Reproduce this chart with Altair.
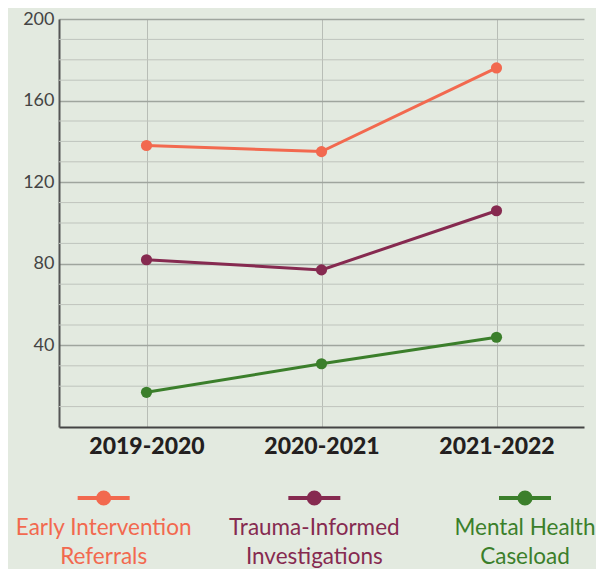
import altair as alt
import pandas as pd

years = ["2019-2020", "2020-2021", "2021-2022"]
series = ["Early Intervention Referrals", "Trauma-Informed Investigations", "Mental Health Caseload"]
legend_labels = [["Early Intervention", "Referrals"], ["Trauma-Informed", "Investigations"], ["Mental Health", "Caseload"]]
colors = ["#F2694F", "#862A50", "#3B7F2B"]
early = [138, 135, 176]
trauma = [82, 77, 106]
mental = [17, 31, 44]
minor_ticks = [10, 20, 30, 50, 60, 70, 90, 100, 110, 130, 140, 150, 170, 180, 190]

rows = []
for s, vals in zip(series, [early, trauma, mental]):
    for y, v in zip(years, vals):
        rows.append({"year": y, "series": s, "value": v})
df = pd.DataFrame(rows)
minor_df = pd.DataFrame({"v": minor_ticks})
leg_df = pd.DataFrame({"series": series, "idx": [0, 1, 2], "label": legend_labels})

FONT = "Lato"
color_scale = alt.Scale(domain=series, range=colors)

x_enc = alt.X("year:O", sort=years, scale=alt.Scale(domain=years, paddingOuter=0.5),
              axis=alt.Axis(title=None, labelAngle=0, labelFont=FONT, labelFontSize=23,
                            labelFontWeight=900, labelColor="#231F20", labelPadding=8,
                            ticks=False, domainColor="#444444", domainWidth=2,
                            grid=True, gridColor="#B8BDB6", gridWidth=1))
y_scale = alt.Scale(domain=[0, 200], nice=False)

minor = alt.Chart(minor_df).mark_rule(color="#BFC4BD", strokeWidth=1).encode(
    y=alt.Y("v:Q", scale=y_scale)
)

lines = alt.Chart(df).mark_line(strokeWidth=3).encode(
    x=x_enc,
    y=alt.Y("value:Q", scale=y_scale,
            axis=alt.Axis(title=None, values=[40, 80, 120, 160, 200], labelFont=FONT,
                          labelFontSize=18, labelColor="#444444", labelPadding=5,
                          ticks=False, domainColor="#555555", domainWidth=2,
                          gridColor="#9FA59E", gridWidth=1.3)),
    color=alt.Color("series:N", scale=color_scale, legend=None),
)
points = alt.Chart(df).mark_circle(size=125, opacity=1).encode(
    x=alt.X("year:O", sort=years),
    y=alt.Y("value:Q", scale=y_scale),
    color=alt.Color("series:N", scale=color_scale, legend=None),
)

main = alt.layer(minor, lines, points).properties(width=525, height=408)

leg_x = alt.X("idx:Q", scale=alt.Scale(domain=[-0.212, 2.28], nice=False), axis=None)
leg_base = alt.Chart(leg_df)
leg_tick = leg_base.mark_tick(orient="horizontal", size=52, thickness=4, opacity=1).encode(
    x=leg_x, y=alt.value(10),
    color=alt.Color("series:N", scale=color_scale, legend=None))
leg_dot = leg_base.mark_circle(size=230, opacity=1).encode(
    x=leg_x, y=alt.value(10),
    color=alt.Color("series:N", scale=color_scale, legend=None))
leg_text = leg_base.mark_text(font=FONT, fontSize=22.5, baseline="top", lineHeight=29, align="center").encode(
    x=leg_x, y=alt.value(29), text="label",
    color=alt.Color("series:N", scale=color_scale, legend=None))
legend = alt.layer(leg_tick, leg_dot, leg_text).properties(width=525, height=70)

chart = alt.vconcat(main, legend, spacing=30).properties(
    padding={"left": 7, "top": 2, "right": 0, "bottom": 0}
).configure(
    background="#E3EAE0"
).configure_view(stroke=None)

chart.save("out.html", embed_options={"renderer": "svg", "actions": False})
